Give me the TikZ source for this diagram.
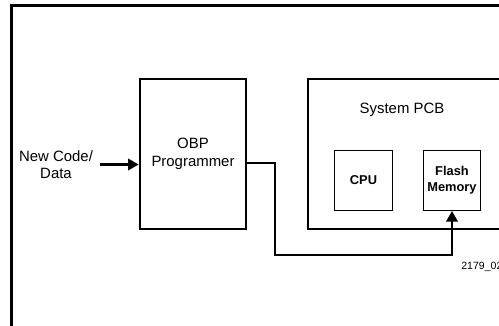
\documentclass[tikz,border=0pt]{standalone}
\usepackage{fontspec}
\setmainfont{Liberation Sans}
\usetikzlibrary{positioning, arrows.meta}
\def\colIn{1.12}
\def\colObp{3.86}
\def\colBend{5.5}
\def\colPcb{8.13}
\def\colCpu{7.27}
\def\colFlash{9.04}
\def\rowMain{3.44}
\def\rowIn{3.23}
\def\rowTitle{4.32}
\def\rowChip{2.91}
\def\rowBus{1.42}
\def\pageW{9.98}
\def\pageH{6.52}

\begin{document}
\begin{tikzpicture}[
    >={Triangle[length=6pt, width=6.5pt]},
    arrow/.style     ={->, line width=1.2pt, black},
    frameLine/.style ={draw=black, line width=1.2pt},
    bigBox/.style    ={rectangle, draw=black, line width=1.5pt, minimum height=3.0cm,
                       align=center, inner sep=0pt},
    chipBox/.style   ={rectangle, draw=black, line width=0.6pt,
                       minimum width=1.15cm, minimum height=1.2cm, align=center, inner sep=0pt,
                       font=\bfseries\fontsize{7.3}{9.1}\selectfont},
    textLabel/.style ={align=center, inner sep=0pt, font=\fontsize{8.5}{10}\selectfont},
]
\useasboundingbox (0,0) rectangle (\pageW,\pageH);
\clip (0,0) rectangle (\pageW,\pageH);

% outer frame (runs off the right and bottom edge)
\draw[frameLine] (0.23,-1) rectangle (11,6.41);

% =====================================================
% Programmer
% =====================================================
\node[bigBox, minimum width=2.12cm, font=\fontsize{8.5}{10.2}\selectfont]
                  (obp)     at (\colObp,\rowMain) {OBP\\Programmer};
\node[textLabel]  (newcode) at (\colIn,\rowIn)    {New Code/\\Data};

% =====================================================
% System PCB
% =====================================================
\node[bigBox, minimum width=3.94cm] (pcb)   at (\colPcb,\rowMain)  {};
\node[textLabel]                    (pcbtitle) at (8.04,\rowTitle) {System PCB};
\node[chipBox]                      (cpu)   at (\colCpu,\rowChip)   {CPU};
\node[chipBox]                      (flash) at (\colFlash,\rowChip) {Flash\\Memory};

\node[anchor=west, inner sep=0pt, font=\fontsize{6}{7}\selectfont]
                  (figno)   at (9.22,1.18) {2179\_02};

% =====================================================
% Connecting arrows
% =====================================================
\coordinate (busTurn) at (\colBend,\rowBus);
\draw[arrow] ([xshift=0.14cm]newcode.east) -- (newcode.east -| obp.west);
\draw[arrow, rounded corners=0pt] ([yshift=-0.18cm]obp.east) -| (busTurn) -| (flash.south);

\end{tikzpicture}
\end{document}
